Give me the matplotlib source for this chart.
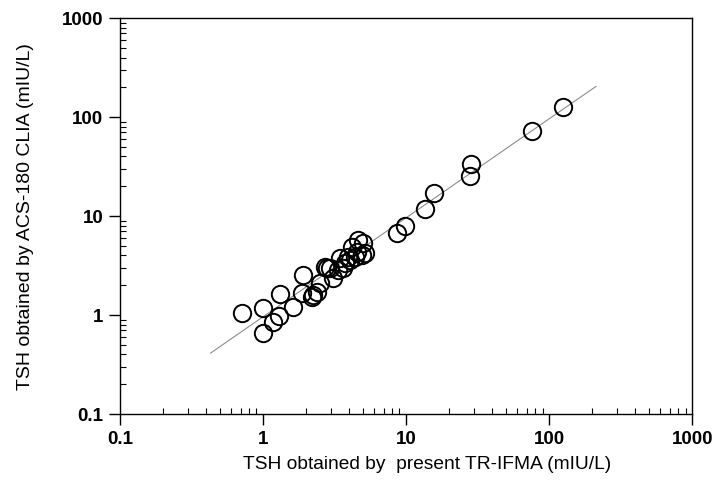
"""
TSH method comparison: TR-IFMA vs ACS-180 CLIA (log-log)
"""
import matplotlib
matplotlib.use("Agg")
import matplotlib.pyplot as plt
from matplotlib.ticker import LogLocator, FixedLocator, NullFormatter
import numpy as np

plt.rcParams['font.family'] = ['Liberation Sans', 'DejaVu Sans']

# TSH by present TR-IFMA (mIU/L)
tr_ifma = [0.71, 1.00, 1.00, 1.31, 1.63, 1.30, 1.18, 1.86, 2.24, 1.91,
           2.50, 2.19, 2.37, 2.79, 3.10, 3.36, 3.74, 4.06, 4.40, 5.17,
           4.64, 5.03, 4.52, 4.90, 4.17, 3.95, 3.45, 2.71, 3.64, 2.94,
           8.65, 9.84, 13.6, 15.7, 28.0, 28.5, 76.0, 125.0]
# TSH by ACS-180 CLIA (mIU/L)
clia = [1.05, 1.17, 0.66, 1.63, 1.21, 0.98, 0.86, 1.66, 1.59, 2.54,
        2.09, 1.53, 1.72, 2.96, 2.35, 2.85, 3.33, 3.59, 3.88, 4.20,
        5.72, 5.30, 4.36, 4.04, 4.90, 3.88, 3.74, 3.08, 2.96, 2.96,
        6.73, 7.90, 11.8, 17.1, 25.4, 33.4, 72.0, 126.0]

# regression line y = a * x^b, drawn over this x range
fit_a = 0.96
fit_b = 1.0
fit_range = [0.43, 213]

ticks = [0.1, 1, 10, 100, 1000]
tick_labels = ['0.1', '1', '10', '100', '1000']

fig = plt.figure(figsize=(7.18, 4.90), dpi=100)
ax = fig.add_axes([0.167, 0.155, 0.797, 0.808])

xf = np.array(fit_range)
ax.plot(xf, fit_a * xf ** fit_b, color='#8c8c8c', lw=0.8, zorder=1)
ax.plot(tr_ifma, clia, 'o', ms=12.5, mfc='none', mec='black', mew=1.4, zorder=2)

ax.set_xscale('log')
ax.set_yscale('log')
ax.set_xlim(0.1, 1000)
ax.set_ylim(0.1, 1000)

for axis in (ax.xaxis, ax.yaxis):
    axis.set_major_locator(FixedLocator(ticks))
    axis.set_minor_locator(LogLocator(base=10, subs=np.arange(2, 10)))
    axis.set_minor_formatter(NullFormatter())
ax.set_xticklabels(tick_labels, fontweight='bold', fontsize=13.5)
ax.set_yticklabels(tick_labels, fontweight='bold', fontsize=13.5)

ax.tick_params(which='major', direction='out', length=8, width=1, pad=4)
ax.tick_params(which='minor', direction='in', length=4, width=0.8)
for s in ax.spines.values():
    s.set_linewidth(1.0)

ax.set_xlabel('TSH obtained by  present TR-IFMA (mIU/L)', fontsize=13.8)
ax.xaxis.set_label_coords(0.537, -0.105)
ax.set_ylabel('TSH obtained by ACS-180 CLIA (mIU/L)', fontsize=14, labelpad=20)

plt.savefig('out.png', dpi=100)
